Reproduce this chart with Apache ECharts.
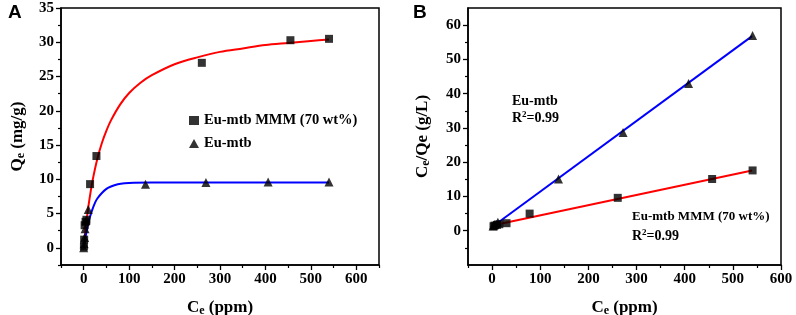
<!doctype html>
<html>
<head>
<meta charset="UTF-8">
<title>Isotherms</title>
<script src="https://cdn.jsdelivr.net/npm/echarts@6/dist/echarts.min.js"></script>
<style>
  html, body { margin: 0; padding: 0; background: #fff; }
  #main { width: 796px; height: 315px; }
</style>
</head>
<body>
<div id="main"></div>
<script>
// panel A - adsorption isotherm
var ceMMM_A = [0.5, 1, 2, 4, 6, 14, 28, 260, 455, 540];
var qeMMM_A = [0.2, 1.2, 3.3, 3.8, 4.1, 9.3, 13.4, 27.0, 30.3, 30.5];
var ceMtb_A = [0, 1, 2, 3, 5, 10, 136, 269, 406, 540];
var qeMtb_A = [0, 0.6, 1.5, 2.8, 4.0, 5.6, 9.3, 9.55, 9.6, 9.6];
// fitted curves
var fitMMM_Ax = [1, 2, 5, 10, 15, 20, 30, 40, 50, 60, 80, 100, 125, 150, 200, 250, 300, 350, 400, 450, 500, 540];
var fitMMM_Ay = [0.7, 1.4, 3.2, 5.9, 8.1, 10.0, 13.0, 15.3, 17.1, 18.6, 20.9, 22.6, 24.1, 25.2, 26.8, 27.8, 28.6, 29.1, 29.6, 29.9, 30.2, 30.4];
var fitMtb_Ax = [0, 3, 7, 12, 18, 25, 30, 40, 50, 60, 75, 90, 110, 150, 200, 300, 400, 540];
var fitMtb_Ay = [0, 1.2, 2.6, 4.1, 5.4, 6.6, 7.2, 8.0, 8.6, 8.95, 9.27, 9.42, 9.5, 9.52, 9.52, 9.52, 9.52, 9.52];

// panel B - linearised (Langmuir) plot
var ceMMM_B = [3, 5, 10, 15, 30, 78, 261, 457, 541];
var yMMM_B = [1.3, 1.5, 1.7, 1.9, 2.2, 5.0, 9.6, 15.1, 17.6];
var ceMtb_B = [2, 5, 12, 138, 272, 408, 541];
var yMtb_B = [1.4, 1.8, 2.5, 15.1, 28.7, 43.0, 57.0];
var fitMMM_Bx = [3, 540];
var fitMMM_By = [1.6, 17.6];
var fitMtb_Bx = [2, 540];
var fitMtb_By = [1.3, 56.8];

// tick labels
var xMajorA = [0, 100, 200, 300, 400, 500, 600];
var xMinorA = [-50, 50, 150, 250, 350, 450, 550, 650];
var yMajorA = [0, 5, 10, 15, 20, 25, 30, 35];
var yMinorA = [-2.5, 2.5, 7.5, 12.5, 17.5, 22.5, 27.5, 32.5];
var xMajorB = [0, 100, 200, 300, 400, 500, 600];
var xMinorB = [-50, 50, 150, 250, 350, 450, 550];
var yMajorB = [0, 10, 20, 30, 40, 50, 60];
var yMinorB = [-5, 5, 15, 25, 35, 45, 55];

var serif = 'Liberation Serif';

function pairs(xs, ys) {
  var out = [];
  for (var i = 0; i < xs.length; i++) out.push([xs[i], ys[i]]);
  return out;
}

function mainAxis(gi, pos, min, max, ticks, extra) {
  var a = {
    type: 'value', gridIndex: gi, position: pos, min: min, max: max,
    splitLine: { show: false },
    axisLine: { show: true, onZero: false, lineStyle: { color: '#000', width: 1.5 } },
    axisTick: { show: true, inside: false, length: 5, customValues: ticks, lineStyle: { color: '#000', width: 1.3 } },
    axisLabel: { customValues: ticks, margin: 7, fontFamily: serif, fontWeight: 'bold', fontSize: 15, color: '#000' }
  };
  for (var k in extra) a[k] = extra[k];
  return a;
}
function minorAxis(gi, pos, min, max, ticks) {
  return {
    type: 'value', gridIndex: gi, position: pos, min: min, max: max,
    splitLine: { show: false },
    axisLine: { show: false, onZero: false },
    axisTick: { show: true, length: 3, customValues: ticks, lineStyle: { color: '#000', width: 1.2 } },
    axisLabel: { show: false }
  };
}

var chart = echarts.init(document.getElementById('main'));

var sub = { fontFamily: serif, fontWeight: 'bold', fontSize: 12, color: '#000', padding: [7, 0, 0, 0] };
var nameStyle = { fontFamily: serif, fontWeight: 'bold', fontSize: 17, color: '#000', rich: { sub: sub } };
var supStyle = { fontFamily: serif, fontWeight: 'bold', fontSize: 9, padding: [0, 0, 7, 0] };

var option = {
  backgroundColor: '#fff',
  animation: false,
  grid: [
    { left: 61, right: 417, top: 8, bottom: 50, show: true, borderColor: '#000', borderWidth: 1.5, outerBoundsMode: 'none' },
    { left: 468, right: 15, top: 8, bottom: 50, show: true, borderColor: '#000', borderWidth: 1.5, outerBoundsMode: 'none' }
  ],
  xAxis: [
    mainAxis(0, 'bottom', -50, 650, xMajorA, { name: 'C{sub|e} (ppm)', nameLocation: 'middle', nameGap: 33, nameTextStyle: nameStyle }),
    minorAxis(0, 'bottom', -50, 650, xMinorA),
    mainAxis(1, 'bottom', -50, 600, xMajorB, { name: 'C{sub|e} (ppm)', nameLocation: 'middle', nameGap: 33, nameTextStyle: nameStyle }),
    minorAxis(1, 'bottom', -50, 600, xMinorB)
  ],
  yAxis: [
    mainAxis(0, 'left', -2.5, 35, yMajorA, { name: 'Q{sub|e} (mg/g)', nameLocation: 'middle', nameGap: 34, nameRotate: 90, nameTextStyle: nameStyle }),
    minorAxis(0, 'left', -2.5, 35, yMinorA),
    mainAxis(1, 'left', -10, 65, yMajorB, { name: 'C{sub|e}/Qe (g/L)', nameLocation: 'middle', nameGap: 36, nameRotate: 90, nameTextStyle: nameStyle }),
    minorAxis(1, 'left', -10, 65, yMinorB)
  ],
  legend: {
    data: ['Eu-mtb MMM (70 wt%)', 'Eu-mtb'],
    orient: 'vertical',
    left: 184, top: 108,
    itemWidth: 10, itemHeight: 9, itemGap: 8,
    textStyle: { fontFamily: serif, fontWeight: 'bold', fontSize: 14.5, color: '#000' }
  },
  graphic: [
    { type: 'text', left: 8, top: 3, style: { text: 'A', font: 'bold 19px "Liberation Sans"', fill: '#000' } },
    { type: 'text', left: 413, top: 3, style: { text: 'B', font: 'bold 19px "Liberation Sans"', fill: '#000' } },
    { type: 'text', left: 512, top: 94, style: { text: 'Eu-mtb', font: 'bold 14px "Liberation Serif"', fill: '#000' } },
    { type: 'text', left: 512, top: 110, style: { text: 'R{sup|2}=0.99', font: 'bold 14px "Liberation Serif"', fill: '#000', rich: { sup: supStyle } } },
    { type: 'text', left: 632, top: 210, style: { text: 'Eu-mtb MMM (70 wt%)', font: 'bold 13px "Liberation Serif"', fill: '#000' } },
    { type: 'text', left: 632, top: 228, style: { text: 'R{sup|2}=0.99', font: 'bold 14px "Liberation Serif"', fill: '#000', rich: { sup: supStyle } } }
  ],
  series: [
    { name: 'fitA1', type: 'line', xAxisIndex: 0, yAxisIndex: 0, data: pairs(fitMMM_Ax, fitMMM_Ay),
      smooth: 0.3, showSymbol: false, lineStyle: { color: '#ff0000', width: 2 }, z: 2 },
    { name: 'fitA2', type: 'line', xAxisIndex: 0, yAxisIndex: 0, data: pairs(fitMtb_Ax, fitMtb_Ay),
      smooth: 0.3, showSymbol: false, lineStyle: { color: '#0000ff', width: 2 }, z: 2 },
    { name: 'Eu-mtb MMM (70 wt%)', type: 'scatter', xAxisIndex: 0, yAxisIndex: 0, data: pairs(ceMMM_A, qeMMM_A),
      symbol: 'rect', symbolSize: 8, itemStyle: { color: '#000' }, z: 3 },
    { name: 'Eu-mtb', type: 'scatter', xAxisIndex: 0, yAxisIndex: 0, data: pairs(ceMtb_A, qeMtb_A),
      symbol: 'triangle', symbolSize: 9, itemStyle: { color: '#000' }, z: 3 },

    { name: 'fitB1', type: 'line', xAxisIndex: 2, yAxisIndex: 2, data: pairs(fitMMM_Bx, fitMMM_By),
      showSymbol: false, lineStyle: { color: '#ff0000', width: 2 }, z: 2 },
    { name: 'fitB2', type: 'line', xAxisIndex: 2, yAxisIndex: 2, data: pairs(fitMtb_Bx, fitMtb_By),
      showSymbol: false, lineStyle: { color: '#0000ff', width: 2 }, z: 2 },
    { name: 'ptsB1', type: 'scatter', xAxisIndex: 2, yAxisIndex: 2, data: pairs(ceMMM_B, yMMM_B),
      symbol: 'rect', symbolSize: 8, itemStyle: { color: '#000' }, z: 3 },
    { name: 'ptsB2', type: 'scatter', xAxisIndex: 2, yAxisIndex: 2, data: pairs(ceMtb_B, yMtb_B),
      symbol: 'triangle', symbolSize: 9, itemStyle: { color: '#000' }, z: 3 }
  ]
};
chart.setOption(option);
</script>
</body>
</html>
